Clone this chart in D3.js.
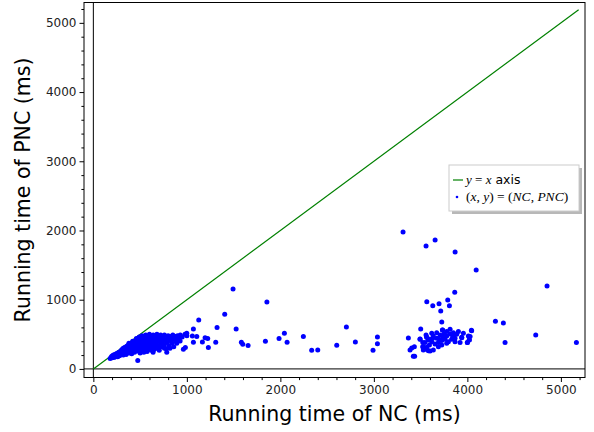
<!DOCTYPE html>
<html><head><meta charset="utf-8">
<script src="https://cdn.jsdelivr.net/npm/d3@7"></script>
<style>body{margin:0;background:#fff;} svg{display:block;}</style>
</head><body>
<script>
// ---- data (ms) ----
const xTicks = [0, 1000, 2000, 3000, 4000, 5000];
const yTicks = [0, 1000, 2000, 3000, 4000, 5000];
const identityLine = [[0, 0], [5190, 5190]];
const clusterPoints = [
 [180,150],[190,165],[195,180],[200,160],[205,190],[210,175],[215,200],[220,165],[225,185],[230,210],
 [235,195],[240,175],[245,220],[250,205],[255,185],[260,230],[265,215],[270,195],[275,240],[280,225],
 [285,205],[290,250],[295,235],[300,215],[300,270],[305,255],[310,285],[315,240],[320,300],[325,270],
 [330,225],[335,310],[340,290],[345,255],[350,320],[355,300],[360,240],[365,335],[370,310],[375,275],
 [380,345],[385,320],[390,260],[395,355],[400,330],[405,295],[410,370],[415,345],[420,250],[425,380],
 [430,355],[435,310],[440,390],[445,365],[450,280],[320,200],[350,210],[380,230],[410,220],[440,240],
 [360,280],[400,270],[430,290],[460,300],[470,330],[455,400],[460,360],[465,420],[470,260],[475,390],
 [480,440],[485,340],[490,300],[495,410],[500,450],[505,370],[510,270],[515,430],[520,390],[525,320],
 [530,460],[535,350],[540,410],[545,290],[550,440],[555,380],[560,330],[565,470],[570,400],[575,250],
 [580,360],[585,430],[590,300],[595,450],[600,380],[605,340],[610,470],[615,410],[620,270],[625,360],
 [630,440],[635,320],[640,390],[645,460],[650,350],[660,420],[670,300],[675,380],[680,460],[690,340],
 [700,410],[705,270],[710,470],[720,370],[730,430],[735,320],[740,390],[750,460],[760,350],[770,420],
 [780,290],[790,380],[800,450],[810,330],[820,410],[830,470],[840,370],[850,430],[860,320],[870,460],
 [880,400],[900,480],[910,440],[930,490],[950,460],[980,500],[1000,480],[260,175],[280,190],[310,210],
 [340,230],[370,250],[400,240],[500,230],[520,280],[560,260],[600,290],[650,280],[700,300],[760,300],
 [820,300],[540,240],[380,370],[420,400],[460,440],[490,460],[520,480],[560,490],[600,500],[640,490],
 [680,500],[720,490],[760,490],[800,480],[850,490],[880,470]
];
const outlierPoints = [
 [475,120],[639,240],[785,240],[963,284],[984,308],[892,370],[928,404],[999,515],[1059,476],[1070,385],
 [1106,467],[1070,577],[1127,707],[1166,390],[1195,452],[1223,438],[1230,308],[1309,385],[1323,597],
 [1405,789],[1494,1155],[1527,577],[1583,385],[1598,356],[1655,337],[1840,399],[1856,967],[1986,438],
 [2043,515],[2072,385],[2246,467],[2335,270],[2400,274],[2603,342],[2706,606],[2802,390],[2991,270],
 [3038,462],[3038,365],[3312,1978],[3558,1776],[3655,1862],[3869,1689],[4094,1429],[4852,1198],
 [3865,1107],[3566,972],[3697,943],[3630,914],[3790,996],[3808,914],[3715,837],[3726,679],[4300,688],
 [4385,664],[3369,447],[3501,577],[3733,563],[4043,558],[4731,491],[4403,380],[5166,380],[3940,452],
 [4000,380],[4029,467],[4020,420],[3387,274],[3405,303],[3433,322],[3422,183],[3436,183],[3494,433],
 [3523,380],[3529,318],[3558,284],[3601,260],[3566,457]
];
const rightCluster = [
 [3565,457],[3601,428],[3636,476],[3672,443],[3708,491],[3743,457],[3779,476],[3815,505],[3850,524],
 [3886,500],[3939,457],[4011,476],[4021,418],[4000,380],[4046,553],[3547,380],[3594,346],[3619,394],
 [3654,361],[3690,380],[3726,409],[3761,428],[3797,394],[3832,428],[3868,443],[3529,274],[3583,264],
 [3636,274],[3690,322],[3736,563],[3779,539],[3815,572],[3672,524],[3619,515],[3868,394],[3922,380],
 [3494,428],[3522,322],[3558,491],[3583,418],[3629,443],[3700,428],[3750,505],[3843,476],[3904,539],
 [3957,515],[3726,346],[3779,370],[3565,313]
];
const points = clusterPoints.concat(outlierPoints, rightCluster);
const xLabel = "Running time of NC (ms)";
const yLabel = "Running time of PNC (ms)";

(function () {
// ---- layout ----
const W = 594, H = 432;
const mL = 84, mR = 585, mT = 2.5, mB = 377.5;
const x = d3.scaleLinear().domain([-100, 5258]).range([mL, mR]);
const y = d3.scaleLinear().domain([-124, 5294]).range([mB, mT]);

const svg = d3.select("body").append("svg").attr("width", W).attr("height", H);
const font = "DejaVu Sans, sans-serif";
const fmt = d3.format("d");

// zero lines
svg.append("line").attr("x1", mL).attr("x2", mR).attr("y1", y(0)).attr("y2", y(0))
  .attr("stroke", "#000").attr("stroke-width", 1);
svg.append("line").attr("x1", x(0)).attr("x2", x(0)).attr("y1", mT).attr("y2", mB)
  .attr("stroke", "#000").attr("stroke-width", 1);

// identity line
svg.append("path").datum(identityLine)
  .attr("d", d3.line().x(d => x(d[0])).y(d => y(d[1])))
  .attr("stroke", "#008000").attr("stroke-width", 1.2).attr("fill", "none");

// points
svg.append("g").selectAll("circle").data(points).join("circle")
  .attr("cx", d => x(d[0])).attr("cy", d => y(d[1])).attr("r", 2.5).attr("fill", "#0000ff");

// axes
const xMinor = d3.range(0, 5300, 200).filter(v => v % 1000 !== 0);
const yMinor = d3.range(0, 5300, 200).filter(v => v % 1000 !== 0);
svg.append("g").attr("transform", `translate(0,${mB})`)
  .call(d3.axisBottom(x).tickValues(xTicks).tickFormat(fmt).tickSize(4.5).tickPadding(3).tickSizeOuter(0));
svg.append("g").attr("transform", `translate(0,${mB})`)
  .call(d3.axisBottom(x).tickValues(xMinor).tickSize(2.6).tickFormat("").tickSizeOuter(0));
svg.append("g").attr("transform", `translate(${mL},0)`)
  .call(d3.axisLeft(y).tickValues(yTicks).tickFormat(fmt).tickSize(4.5).tickPadding(3).tickSizeOuter(0));
svg.append("g").attr("transform", `translate(${mL},0)`)
  .call(d3.axisLeft(y).tickValues(yMinor).tickSize(2.6).tickFormat("").tickSizeOuter(0));
svg.selectAll(".tick text").attr("font-family", font).attr("font-size", 12).attr("fill", "#222");
svg.selectAll(".domain").remove();

// frame
svg.append("rect").attr("x", mL).attr("y", mT).attr("width", mR - mL).attr("height", mB - mT)
  .attr("fill", "none").attr("stroke", "#000").attr("stroke-width", 1);

// labels
svg.append("text").attr("x", (mL + mR) / 2).attr("y", 421).attr("text-anchor", "middle")
  .attr("font-family", font).attr("font-size", 20.5).attr("fill", "#000").text(xLabel);
svg.append("text").attr("transform", `translate(30,${(mT + mB) / 2}) rotate(-90)`)
  .attr("text-anchor", "middle").attr("font-family", font).attr("font-size", 20.5)
  .attr("fill", "#000").text(yLabel);

// legend
const lg = svg.append("g");
const lx = 449, ly = 165, lw = 130, lh = 46;
lg.append("rect").attr("x", lx + 3).attr("y", ly + 3).attr("width", lw).attr("height", lh).attr("fill", "#888").attr("opacity", 0.6);
lg.append("rect").attr("x", lx).attr("y", ly).attr("width", lw).attr("height", lh)
  .attr("fill", "#fff").attr("stroke", "#ccc").attr("stroke-width", 1);
lg.append("line").attr("x1", lx + 4).attr("x2", lx + 14).attr("y1", ly + 15).attr("y2", ly + 15)
  .attr("stroke", "#008000").attr("stroke-width", 1.2);
const t1 = lg.append("text").attr("x", lx + 17).attr("y", ly + 19).attr("font-size", 13);
t1.append("tspan").attr("font-family", "Liberation Serif, serif").attr("font-style", "italic").text("y");
t1.append("tspan").attr("font-family", "Liberation Serif, serif").text(" = ");
t1.append("tspan").attr("font-family", "Liberation Serif, serif").attr("font-style", "italic").text("x");
t1.append("tspan").attr("font-family", font).attr("font-size", 12.5).text(" axis");
lg.append("circle").attr("cx", lx + 8).attr("cy", ly + 32).attr("r", 1.3).attr("fill", "#0000ff");
const t2 = lg.append("text").attr("x", lx + 17).attr("y", ly + 36).attr("font-size", 13.5)
  .attr("font-family", "Liberation Serif, serif");
t2.append("tspan").text("(");
t2.append("tspan").attr("font-style", "italic").text("x");
t2.append("tspan").text(", ");
t2.append("tspan").attr("font-style", "italic").text("y");
t2.append("tspan").text(") = (");
t2.append("tspan").attr("font-style", "italic").text("NC");
t2.append("tspan").text(", ");
t2.append("tspan").attr("font-style", "italic").text("PNC");
t2.append("tspan").text(")");
})();
</script>
</body></html>
